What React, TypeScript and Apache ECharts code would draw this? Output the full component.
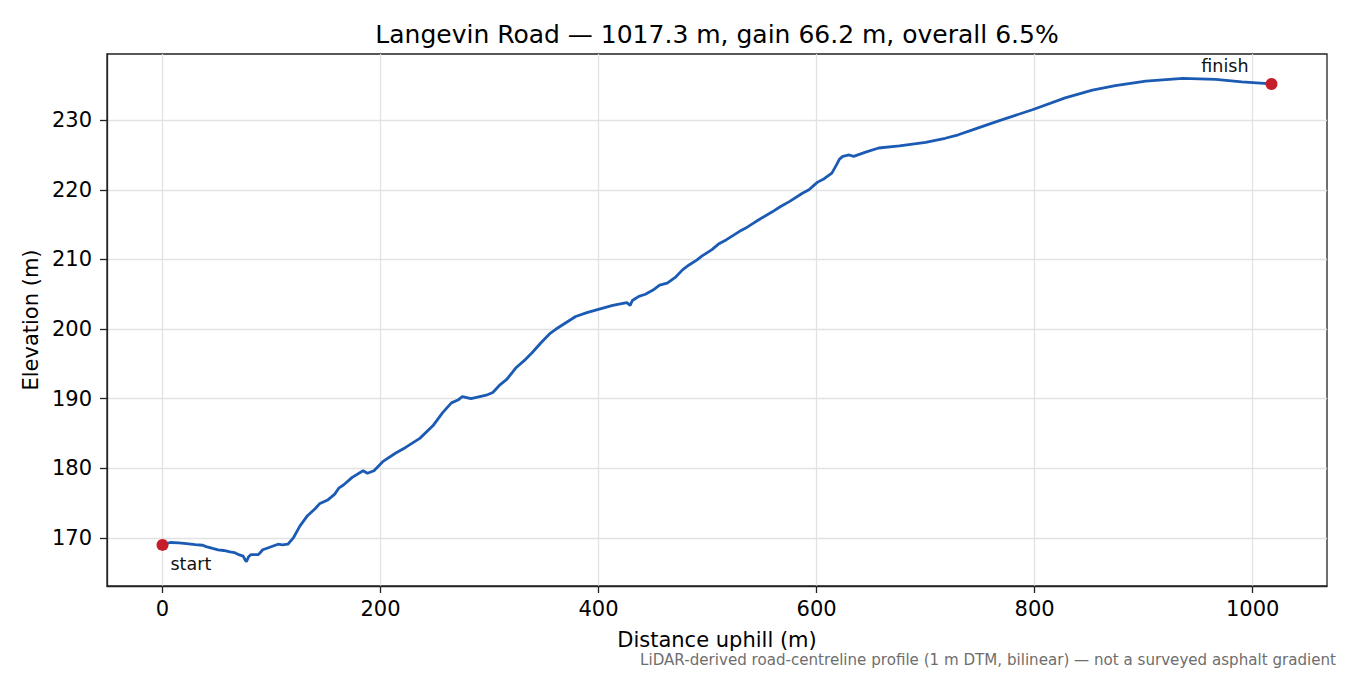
import { useEffect, useRef } from "react";
import * as echarts from "echarts";

// distance along road (m) and elevation (m)
const distM = [
  0, 7, 15, 22, 30, 37, 40, 46, 51, 56, 62, 66, 70, 74, 76, 77, 79, 81, 88, 92,
  99, 106, 110, 115, 120, 126, 133, 140, 144, 152, 158, 162, 166, 174, 184, 188,
  194, 202, 214, 223, 236, 248, 257, 265, 271, 275, 283, 297, 303, 309, 316,
  320, 324, 332, 339, 347, 355, 361, 370, 379, 390, 399, 413, 426, 429, 431,
  437, 443, 450, 456, 463, 471, 477, 483, 490, 495, 504, 510, 517, 525, 529,
  535, 541, 547, 559, 567, 575, 587, 593, 598, 601, 607, 614, 618, 621, 624,
  630, 634, 645, 657, 676, 700, 718, 730, 743, 767, 798, 828, 853, 874, 902,
  936, 966, 990, 1017.3,
];
const elevM = [
  169.0, 169.35, 169.3, 169.2, 169.05, 168.95, 168.75, 168.5, 168.3, 168.2,
  168.0, 167.9, 167.6, 167.4, 166.8, 166.6, 167.3, 167.6, 167.6, 168.3, 168.7,
  169.1, 169.0, 169.1, 170.0, 171.7, 173.2, 174.2, 174.9, 175.5, 176.3, 177.2,
  177.6, 178.7, 179.65, 179.3, 179.65, 180.95, 182.2, 183.0, 184.3, 186.1,
  188.0, 189.4, 189.8, 190.3, 190.0, 190.5, 190.9, 191.9, 192.8, 193.6, 194.4,
  195.5, 196.6, 198.0, 199.3, 200.0, 200.9, 201.8, 202.4, 202.8, 203.4, 203.8,
  203.4, 204.1, 204.7, 205.0, 205.6, 206.3, 206.6, 207.5, 208.5, 209.2, 209.9,
  210.5, 211.4, 212.2, 212.8, 213.6, 214.0, 214.5, 215.1, 215.7, 216.8, 217.6,
  218.3, 219.5, 220.0, 220.7, 221.1, 221.6, 222.4, 223.5, 224.4, 224.8, 225.0,
  224.8, 225.4, 226.0, 226.3, 226.8, 227.4, 227.9, 228.6, 229.9, 231.5, 233.2,
  234.3, 234.95, 235.6, 236.0, 235.85, 235.5, 235.2,
];

const xTicks = [0, 200, 400, 600, 800, 1000];
const yTicks = [170, 180, 190, 200, 210, 220, 230];
const endLabels = ["start", "finish"];

const FONT = "DejaVu Sans";

export default function App() {
  const ref = useRef<HTMLDivElement>(null);

  useEffect(() => {
    if (!ref.current) return;
    const chart = echarts.init(ref.current, null, { renderer: "svg" });

    const line = distM.map((d, i) => [d, elevM[i]]);
    const last = distM.length - 1;
    const ends = [
      {
        value: [distM[0], elevM[0]],
        label: { show: true, formatter: endLabels[0], position: [14, 25], align: "left", verticalAlign: "middle" },
      },
      {
        value: [distM[last], elevM[last]],
        label: { show: true, formatter: endLabels[1], position: [-17, -12], align: "right", verticalAlign: "middle" },
      },
    ];

    const splitLine = { show: true, lineStyle: { color: "#e2e2e2", width: 1.3 } };

    chart.setOption({
      animation: false,
      backgroundColor: "#ffffff",
      textStyle: { fontFamily: FONT },
      grid: {
        left: 107,
        right: 23,
        top: 54,
        bottom: 89,
        show: true,
        borderColor: "#222",
        borderWidth: 1.3,
        backgroundColor: "transparent",
      },
      xAxis: {
        type: "value",
        min: -50.9,
        max: 1068.2,
        name: "Distance uphill (m)",
        nameLocation: "middle",
        nameGap: 43,
        nameTextStyle: { color: "#000", fontSize: 21, fontFamily: FONT },
        axisLine: { show: true, onZero: false, lineStyle: { color: "#222", width: 1.3 } },
        axisTick: { show: true, length: 7, customValues: xTicks, lineStyle: { color: "#222", width: 1.3 } },
        axisLabel: {
          customValues: xTicks,
          color: "#000",
          fontSize: 21,
          margin: 12,
          fontFamily: FONT,
          formatter: (v: number) => String(v),
        },
        splitLine,
      },
      yAxis: {
        type: "value",
        min: 163.1,
        max: 239.5,
        name: "Elevation (m)",
        nameLocation: "middle",
        nameGap: 59,
        nameTextStyle: { color: "#000", fontSize: 21, fontFamily: FONT },
        axisLine: { show: true, onZero: false, lineStyle: { color: "#222", width: 1.3 } },
        axisTick: { show: true, length: 7, customValues: yTicks, lineStyle: { color: "#222", width: 1.3 } },
        axisLabel: {
          customValues: yTicks,
          color: "#000",
          fontSize: 21,
          margin: 15,
          fontFamily: FONT,
          formatter: (v: number) => String(v),
        },
        splitLine,
      },
      series: [
        {
          type: "line",
          data: line,
          symbol: "none",
          smooth: false,
          lineStyle: { color: "#1c5bb3", width: 2.8 },
          z: 2,
        },
        {
          type: "scatter",
          data: ends,
          symbolSize: 12,
          itemStyle: { color: "#c41e2a", opacity: 1 },
          label: { color: "#111", fontSize: 17.5, fontFamily: FONT },
          z: 3,
        },
      ],
      graphic: [
        {
          type: "text",
          x: 717,
          y: 34,
          style: {
            text: "Langevin Road — 1017.3 m, gain 66.2 m, overall 6.5%",
            fill: "#000",
            font: `25px "${FONT}"`,
            textAlign: "center",
            textVerticalAlign: "middle",
          },
        },
        {
          type: "text",
          x: 1336,
          y: 660,
          style: {
            text: "LiDAR-derived road-centreline profile (1 m DTM, bilinear) — not a surveyed asphalt gradient",
            fill: "#6e6e6e",
            font: `15.1px "${FONT}"`,
            textAlign: "right",
            textVerticalAlign: "middle",
          },
        },
      ],
    });

    return () => chart.dispose();
  }, []);

  return (
    <div
      ref={ref}
      style={{ position: "fixed", left: 0, top: 0, width: 1350, height: 675 }}
    />
  );
}
